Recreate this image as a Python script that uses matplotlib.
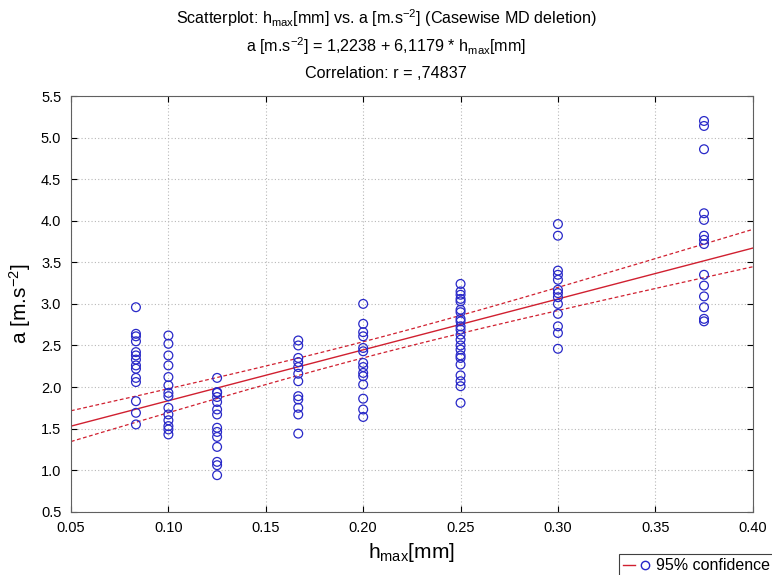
import numpy as np
import matplotlib
matplotlib.use("Agg")
import matplotlib.pyplot as plt
from matplotlib.lines import Line2D
from matplotlib.legend_handler import HandlerTuple

plt.rcParams['font.family'] = ['Liberation Sans', 'DejaVu Sans']
plt.rcParams['mathtext.default'] = 'regular'

# h_max levels [mm] and measured accelerations a [m.s^-2] at each level
h_levels = [1 / 12, 0.10, 0.125, 1 / 6, 0.20, 0.25, 0.30, 0.375]
a_083 = [2.96, 2.64, 2.61, 2.55, 2.42, 2.38, 2.33, 2.26, 2.22, 2.11, 2.06, 1.83, 1.69, 1.55]
a_100 = [2.62, 2.52, 2.38, 2.26, 2.12, 2.02, 1.93, 1.89, 1.75, 1.67, 1.60, 1.53, 1.49, 1.43]
a_125 = [2.11, 1.94, 1.93, 1.88, 1.82, 1.73, 1.67, 1.51, 1.46, 1.40, 1.28, 1.10, 1.06, 0.94]
a_167 = [2.56, 2.50, 2.35, 2.30, 2.24, 2.16, 2.07, 1.89, 1.85, 1.75, 1.67, 1.44]
a_200 = [3.00, 2.76, 2.66, 2.61, 2.47, 2.43, 2.29, 2.24, 2.17, 2.13, 2.03, 1.86, 1.73, 1.64]
a_250 = [3.24, 3.15, 3.11, 3.06, 3.03, 2.93, 2.90, 2.82, 2.79, 2.73, 2.69, 2.63,
         2.57, 2.50, 2.45, 2.38, 2.35, 2.27, 2.14, 2.07, 2.01, 1.81]
a_300 = [3.96, 3.82, 3.40, 3.35, 3.29, 3.17, 3.13, 3.08, 3.00, 2.88, 2.73, 2.65, 2.46]
a_375 = [5.20, 5.14, 4.86, 4.09, 4.01, 3.82, 3.77, 3.72, 3.35, 3.22, 3.09, 2.96, 2.82, 2.79]

# fitted line a = b0 + b1 * h_max
b0, b1 = 1.2238, 6.1179

groups = [a_083, a_100, a_125, a_167, a_200, a_250, a_300, a_375]
x = np.concatenate([[h] * len(g) for h, g in zip(h_levels, groups)])
y = np.concatenate(groups)

# 95% confidence band for the mean response
n = len(x)
resid = y - (b0 + b1 * x)
s = np.sqrt(np.sum(resid ** 2) / (n - 2))
sxx = np.sum((x - x.mean()) ** 2)
xs = np.linspace(0.05, 0.40, 200)
fit = b0 + b1 * xs
half = 1.981 * s * np.sqrt(1 / n + (xs - x.mean()) ** 2 / sxx)

fig = plt.figure(figsize=(7.72, 5.75), dpi=100)
ax = fig.add_axes([0.092, 0.11, 0.883, 0.723])

ax.scatter(x, y, s=40, facecolors='none', edgecolors='#2828c8', linewidths=0.9, zorder=3)
ax.plot(xs, fit, color='#d02030', lw=1.0, zorder=2)
ax.plot(xs, fit + half, color='#d02030', lw=0.9, ls=(0, (3, 2)), zorder=2)
ax.plot(xs, fit - half, color='#d02030', lw=0.9, ls=(0, (3, 2)), zorder=2)

ax.set_xlim(0.05, 0.40)
ax.set_ylim(0.5, 5.5)
ax.set_xticks(np.arange(0.05, 0.401, 0.05))
ax.set_yticks(np.arange(0.5, 5.51, 0.5))
ax.xaxis.set_major_formatter(plt.FormatStrFormatter('%.2f'))
ax.yaxis.set_major_formatter(plt.FormatStrFormatter('%.1f'))
ax.tick_params(direction='in', top=True, right=True, length=4, labelsize=10.5, pad=7)
ax.grid(True, color='#b8b8b8', ls=(0, (1, 2)), lw=0.8)
for sp in ax.spines.values():
    sp.set_color('#606060')

ax.set_xlabel('$h_{max}$[mm]', fontsize=15, labelpad=4)
ax.set_ylabel('a [m.s$^{-2}$]', fontsize=15, labelpad=6)

title_kw = dict(ha='center', va='center', fontsize=11.6)
fig.text(0.5, 0.968, 'Scatterplot: $h_{max}$[mm] vs. a [m.s$^{-2}$] (Casewise MD deletion)', **title_kw)
fig.text(0.5, 0.92, 'a [m.s$^{-2}$] = 1,2238 + 6,1179 * $h_{max}$[mm]', **title_kw)
fig.text(0.5, 0.873, 'Correlation: r = ,74837', **title_kw)

h_line = Line2D([], [], color='#d02030', lw=1.0)
h_mark = Line2D([], [], ls='none', marker='o', ms=6, mfc='none', mec='#2828c8')
leg = fig.legend([(h_line, h_mark)], ['95% confidence'], loc='lower right',
                 bbox_to_anchor=(1.003, -0.004), borderaxespad=0,
                 handler_map={tuple: HandlerTuple(ndivide=None)},
                 fontsize=11.5, fancybox=False, edgecolor='#404040', framealpha=1,
                 borderpad=0.25, handlelength=1.8, handletextpad=0.3)
leg.get_frame().set_linewidth(0.8)

fig.savefig('out.png', dpi=100)
